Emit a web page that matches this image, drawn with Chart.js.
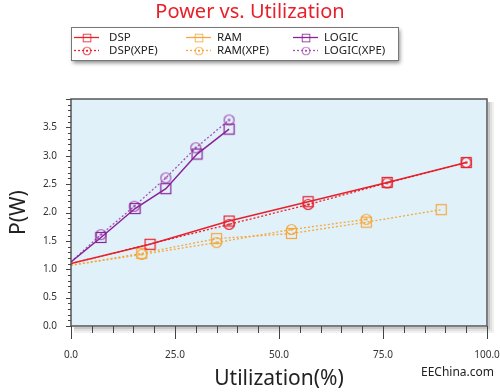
<!DOCTYPE html>
<html>
<head>
<meta charset="utf-8">
<script src="https://cdn.jsdelivr.net/npm/chart.js@4"></script>
<style>
  html, body { margin: 0; padding: 0; background: #fff; }
  #wrap { position: relative; width: 500px; height: 392px; }
</style>
</head>
<body>
<div id="wrap"><canvas id="powerChart" width="500" height="392"></canvas></div>
<script>
  // values (x = utilization %, y = power W)
  const dspX = [0, 19, 38, 57, 76, 95];
  const dspY = [1.1, 1.44, 1.85, 2.19, 2.53, 2.88];
  const dspXpeX = [0, 38, 57, 76, 95];
  const dspXpeY = [1.1, 1.79, 2.14, 2.52, 2.88];
  const ramX = [0, 17, 35, 53, 71, 89];
  const ramY = [1.07, 1.28, 1.54, 1.63, 1.83, 2.05];
  const ramXpeX = [0, 17, 35, 53, 71];
  const ramXpeY = [1.07, 1.26, 1.47, 1.70, 1.88];
  const logicX = [0, 7.2, 15.4, 22.8, 30.3, 38];
  const logicY = [1.13, 1.56, 2.07, 2.42, 3.03, 3.47];
  const logicXpeX = [0, 7.2, 15.2, 22.8, 30, 38];
  const logicXpeY = [1.13, 1.61, 2.11, 2.61, 3.14, 3.63];

  const seriesNames = ['DSP', 'DSP(XPE)', 'RAM', 'RAM(XPE)', 'LOGIC', 'LOGIC(XPE)'];

  const RED = '#e8202a', ORANGE = '#f6a83c', PURPLE = '#8a2396', PURPLE_L = '#a550b5';
  const FONT = '"Noto Sans", "Open Sans", sans-serif';

  function toPoints(xs, ys) {
    return xs.map((x, i) => ({ x: x, y: ys[i] }));
  }

  // marker images: hollow square, circle with center dot
  function marker(kind, color) {
    const c = document.createElement('canvas');
    c.width = 13; c.height = 13;
    const g = c.getContext('2d');
    g.strokeStyle = color;
    g.lineWidth = 1.2;
    if (kind === 'square') {
      g.strokeRect(1.5, 1.5, 10, 10);
    } else {
      g.beginPath(); g.arc(6.5, 6.5, 5, 0, Math.PI * 2); g.stroke();
      g.fillStyle = color;
      g.beginPath(); g.arc(6.5, 6.5, 1.3, 0, Math.PI * 2); g.fill();
    }
    return c;
  }

  function ds(label, xs, ys, color, kind, dotted, width) {
    return {
      label: label,
      data: toPoints(xs, ys),
      showLine: true,
      borderColor: color,
      borderWidth: width,
      borderDash: dotted ? [2, 2] : [],
      pointStyle: marker(kind, color),
      // no marker on the shared start point at 0 %
      pointRadius: xs.map(x => (x === 0 ? 0 : 6)),
      pointHoverRadius: 6,
      backgroundColor: color
    };
  }

  const datasets = [
    ds(seriesNames[0], dspX, dspY, RED, 'square', false, 1.5),
    ds(seriesNames[1], dspXpeX, dspXpeY, RED, 'circle', true, 1.3),
    ds(seriesNames[2], ramX, ramY, ORANGE, 'square', true, 1.3),
    ds(seriesNames[3], ramXpeX, ramXpeY, ORANGE, 'circle', true, 1.3),
    ds(seriesNames[4], logicX, logicY, PURPLE, 'square', false, 1.5),
    ds(seriesNames[5], logicXpeX, logicXpeY, PURPLE_L, 'circle', true, 1.3)
  ];

  // light blue plot area, framed, with minor/major ticks
  const plotFrame = {
    id: 'plotFrame',
    beforeDatasetsDraw(chart) {
      const { ctx, chartArea: a } = chart;
      ctx.save();
      ctx.fillStyle = '#e0f1fa';
      ctx.fillRect(a.left, a.top, a.right - a.left, a.bottom - a.top);
      ctx.restore();
    },
    afterDatasetsDraw(chart) {
      const { ctx, chartArea: a, scales } = chart;
      ctx.save();
      // soft shadow on right and bottom
      [[0.22, 2], [0.12, 4], [0.06, 6]].forEach(([alpha, off]) => {
        ctx.strokeStyle = 'rgba(0,0,0,' + alpha + ')';
        ctx.lineWidth = 2;
        ctx.beginPath();
        ctx.moveTo(a.right + off, a.top + 3);
        ctx.lineTo(a.right + off, a.bottom + off);
        ctx.lineTo(a.left + 3, a.bottom + off);
        ctx.stroke();
      });
      ctx.strokeStyle = '#555';
      ctx.lineWidth = 1.5;
      ctx.strokeRect(a.left, a.top, a.right - a.left, a.bottom - a.top);

      ctx.strokeStyle = '#444';
      ctx.lineWidth = 1;
      scales.x.ticks.forEach(t => {
        const px = Math.round(scales.x.getPixelForValue(t.value)) + 0.5;
        const len = t.value % 25 === 0 ? 13 : 7;
        ctx.beginPath(); ctx.moveTo(px, a.bottom); ctx.lineTo(px, a.bottom + len); ctx.stroke();
      });
      scales.y.ticks.forEach(t => {
        const py = Math.round(scales.y.getPixelForValue(t.value)) + 0.5;
        const major = Math.round(t.value * 10) % 5 === 0;
        const len = major ? 5 : 3;
        ctx.beginPath(); ctx.moveTo(a.left - len, py); ctx.lineTo(a.left, py); ctx.stroke();
      });
      ctx.restore();
    }
  };

  // title, legend box, watermark
  const decorations = {
    id: 'decorations',
    afterDraw(chart) {
      const ctx = chart.ctx;
      ctx.save();
      ctx.fillStyle = RED;
      ctx.font = '20px ' + FONT;
      ctx.textAlign = 'center';
      ctx.textBaseline = 'middle';
      ctx.fillText('Power vs. Utilization', 250, 12);

      // legend box
      ctx.shadowColor = 'rgba(0,0,0,0.45)';
      ctx.shadowBlur = 4;
      ctx.shadowOffsetX = 2;
      ctx.shadowOffsetY = 3;
      ctx.fillStyle = '#fff';
      ctx.fillRect(71, 27, 327, 33);
      ctx.shadowColor = 'transparent';
      ctx.strokeStyle = '#777';
      ctx.lineWidth = 1;
      ctx.strokeRect(71.5, 27.5, 327, 33);

      const cols = [[74, 109], [186, 217], [293, 324]];
      const rows = [37, 50];
      ctx.font = '11.5px ' + FONT;
      ctx.textAlign = 'left';
      chart.data.datasets.forEach((d, i) => {
        const [sx, tx] = cols[Math.floor(i / 2)];
        const y = rows[i % 2];
        const solid = i % 2 === 0;
        ctx.strokeStyle = d.borderColor;
        ctx.lineWidth = 1.3;
        ctx.setLineDash(solid ? [] : [2, 2]);
        ctx.beginPath(); ctx.moveTo(sx, y + 0.5); ctx.lineTo(sx + 25, y + 0.5); ctx.stroke();
        ctx.setLineDash([]);
        ctx.drawImage(d.pointStyle, sx + 8, y - 4, 10, 10);
        ctx.fillStyle = '#222';
        ctx.fillText(d.label, tx, y + 1);
      });

      ctx.fillStyle = '#222';
      ctx.font = '12px ' + FONT;
      ctx.textAlign = 'right';
      ctx.fillText('EEChina.com', 494, 373);
      ctx.restore();
    }
  };

  const ctxLine = document.getElementById('powerChart').getContext('2d');
  new Chart(ctxLine, {
    type: 'scatter',
    data: { datasets: datasets },
    options: {
      responsive: false,
      animation: false,
      layout: { padding: { top: 99, right: 13, left: 0, bottom: 0 } },
      plugins: {
        legend: { display: false },
        title: { display: false },
        tooltip: { enabled: false }
      },
      scales: {
        x: {
          type: 'linear',
          min: 0,
          max: 100,
          grid: { display: false, drawTicks: false },
          border: { display: false },
          afterFit(scale) {
            scale.height = 66;
            scale.paddingLeft = 0;
            scale.paddingRight = 0;
          },
          ticks: {
            stepSize: 5,
            autoSkip: false,
            maxRotation: 0,
            padding: 23,
            color: '#333',
            font: { family: FONT, size: 10 },
            callback: v => (v % 25 === 0 ? v.toFixed(1) : '')
          },
          title: {
            display: true,
            text: 'Utilization(%)',
            color: '#222',
            font: { family: FONT, size: 21 },
            padding: { top: 0, bottom: 0 }
          }
        },
        y: {
          min: 0,
          max: 4,
          grid: { display: false, drawTicks: false },
          border: { display: false },
          afterFit(scale) {
            scale.width = 71;
            scale.paddingTop = 0;
            scale.paddingBottom = 0;
          },
          ticks: {
            stepSize: 0.1,
            autoSkip: false,
            padding: 14,
            color: '#333',
            font: { family: FONT, size: 10 },
            callback: v => {
              const t = Math.round(v * 10);
              return (t % 5 === 0 && t < 40) ? (t / 10).toFixed(1) : '';
            }
          },
          title: {
            display: true,
            text: 'P(W)',
            color: '#222',
            font: { family: FONT, size: 21 },
            padding: { top: 6, bottom: 0 }
          }
        }
      }
    },
    plugins: [plotFrame, decorations]
  });
</script>
</body>
</html>
